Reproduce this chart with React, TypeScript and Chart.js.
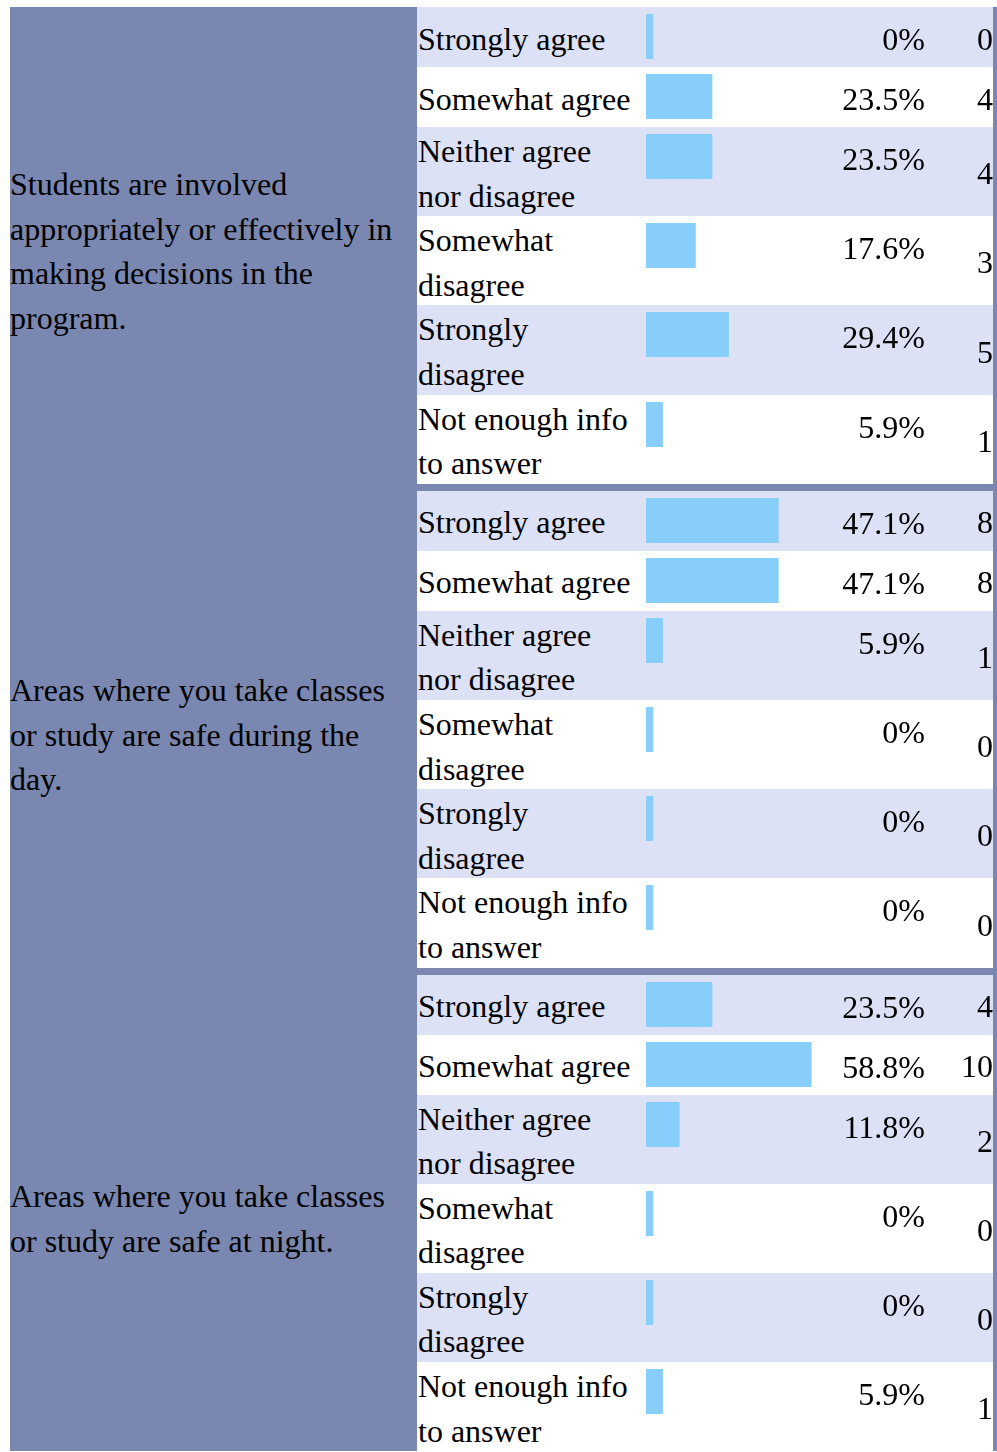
import React, { useEffect, useRef } from "react";
import { Chart, registerables } from "chart.js";

Chart.register(...registerables);

const questionTitles = [
  "Students are involved appropriately or effectively in making decisions in the program.",
  "Areas where you take classes or study are safe during the day.",
  "Areas where you take classes or study are safe at night.",
];

const responseLabels = [
  "Strongly agree",
  "Somewhat agree",
  "Neither agree nor disagree",
  "Somewhat disagree",
  "Strongly disagree",
  "Not enough info to answer",
];

const decisionsPercents = [0, 23.5, 23.5, 17.6, 29.4, 5.9];
const decisionsCounts = [0, 4, 4, 3, 5, 1];

const dayPercents = [47.1, 47.1, 5.9, 0, 0, 0];
const dayCounts = [8, 8, 1, 0, 0, 0];

const nightPercents = [23.5, 58.8, 11.8, 0, 0, 5.9];
const nightCounts = [4, 10, 2, 0, 0, 1];

const groupPercents = [decisionsPercents, dayPercents, nightPercents];
const groupCounts = [decisionsCounts, dayCounts, nightCounts];

const SLATE = "#7a87b1";
const LIGHT = "#dce1f5";
const BAR = "#87cefa";

function BarCell({ label, value }: { label: string; value: number }) {
  const ref = useRef<HTMLCanvasElement | null>(null);
  useEffect(() => {
    if (!ref.current) return;
    const chart = new Chart(ref.current, {
      type: "bar",
      data: {
        labels: [label],
        datasets: [
          {
            data: [value],
            backgroundColor: BAR,
            borderWidth: 0,
            barPercentage: 1,
            categoryPercentage: 1,
            minBarLength: 7,
          },
        ],
      },
      options: {
        indexAxis: "y",
        responsive: false,
        animation: false,
        events: [],
        layout: { padding: 0 },
        plugins: { legend: { display: false }, tooltip: { enabled: false } },
        scales: {
          x: { min: 0, max: 100, display: false },
          y: { display: false },
        },
      },
    });
    return () => chart.destroy();
  }, [label, value]);
  return (
    <canvas
      ref={ref}
      width={281}
      height={45}
      style={{ position: "absolute", left: 229, top: 7, width: 281, height: 45, display: "block" }}
    />
  );
}

export default function App() {
  useEffect(() => {
    const st = document.createElement("style");
    st.textContent = "html,body{overflow:hidden}";
    document.head.appendChild(st);
    return () => {
      document.head.removeChild(st);
    };
  }, []);
  return (
    <div
      style={{
        position: "absolute",
        left: 10,
        top: 7,
        width: 987,
        background: SLATE,
        fontFamily: '"Liberation Serif", "Times New Roman", serif',
        fontSize: 32,
        lineHeight: "44.6px",
        color: "#000",
      }}
    >
      {questionTitles.map((title, gi) => (
        <div key={gi} style={{ display: "flex", marginTop: gi ? 7 : 0 }}>
          <div
            style={{
              width: 407,
              display: "flex",
              alignItems: "center",
            }}
          >
            <div style={{ width: 402, position: "relative", top: 6 }}>{title}</div>
          </div>
          <div style={{ width: 576 }}>
            {responseLabels.map((lab, ri) => (
              <div
                key={ri}
                style={{
                  position: "relative",
                  display: "flex",
                  minHeight: 60,
                  background: ri % 2 === 0 ? LIGHT : "#ffffff",
                }}
              >
                <div
                  style={{
                    width: 229,
                    boxSizing: "border-box",
                    paddingLeft: 1,
                    paddingRight: 9,
                    display: "flex",
                    alignItems: "center",
                  }}
                >
                  <span style={{ position: "relative", top: 2 }}>{lab}</span>
                </div>
                <BarCell label={lab} value={groupPercents[gi][ri]} />
                <div style={{ position: "absolute", right: 68, top: 10, textAlign: "right", whiteSpace: "nowrap" }}>
                  {groupPercents[gi][ri]}%
                </div>
                <div
                  style={{
                    position: "absolute",
                    right: 0,
                    top: 0,
                    bottom: 0,
                    display: "flex",
                    alignItems: "center",
                  }}
                >
                  <span style={{ position: "relative", top: 2 }}>{groupCounts[gi][ri]}</span>
                </div>
              </div>
            ))}
          </div>
        </div>
      ))}
    </div>
  );
}
